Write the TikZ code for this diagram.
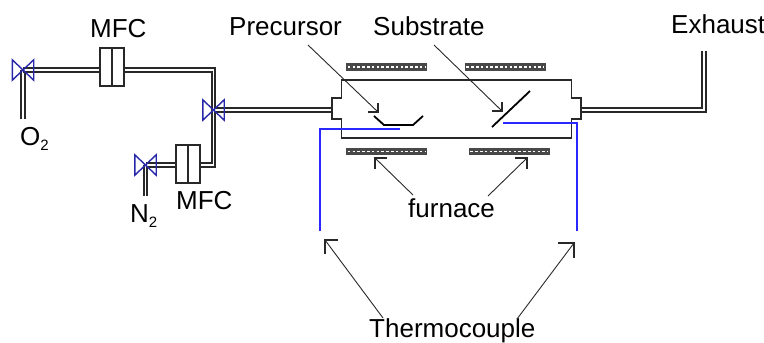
\documentclass[tikz,border=0pt]{standalone}
\usepackage{fontspec}
\setmainfont{Liberation Sans}
\usetikzlibrary{calc}
\definecolor{valveblue}{RGB}{40,40,170}
\definecolor{tcblue}{RGB}{40,40,255}
\definecolor{lineblk}{RGB}{40,40,40}
\tikzset{
  lbl/.style={inner sep=0pt,font=\fontsize{26}{28}\selectfont,text=black},
  pipe/.style={draw=lineblk,line width=2pt,double=white,double distance=1.2pt,line join=miter},
  mfcbox/.style={draw=lineblk,line width=1.4pt,fill=white,minimum width=24pt,minimum height=38pt,inner sep=0pt},
  valvept/.style={inner sep=0pt,minimum width=21pt,minimum height=20pt},
  tube/.style={draw=lineblk,line width=1.4pt},
  tc/.style={draw=tcblue,line width=2pt},
  heater/.style={draw=none,fill=lineblk!85,minimum width=81pt,minimum height=7.5pt,inner sep=0pt},
  pointer/.style={draw=lineblk,line width=0.9pt},
  barb/.style={draw=lineblk,line width=1.3pt},
  holder/.style={draw=black,line width=1.8pt}
}
\newcommand{\valveglyph}[1]{%
  \draw[valveblue,line width=1.4pt,line join=miter]
    (#1.north west)--(#1.south east)--(#1.north east)--(#1.south west)--cycle;}
\newcommand{\heaterhatch}[1]{%
  \draw[white,line width=1.8pt,dash pattern=on 2.6pt off 2.2pt]
    ($(#1.west)+(2pt,0)$)--($(#1.east)+(-2pt,0)$);}
\newcommand{\subtwo}{\raisebox{-5pt}{\fontsize{15}{15}\selectfont 2}}
\begin{document}
\begin{tikzpicture}[x=1pt,y=-1pt]
\useasboundingbox (0,0) rectangle (764,343);
% named points
\node[valvept] (v1) at (23,70) {};
\node[valvept] (v2) at (213.5,110) {};
\node[valvept] (v3) at (145.5,165) {};
\coordinate (o2end) at (23,118.5);
\coordinate (n2end) at (145.5,196);
\coordinate (c1) at (213.5,70);
\coordinate (c2) at (213.5,165);
\coordinate (tl) at (332,110);
\coordinate (tr) at (581,110);
\coordinate (ec) at (704,110);
\coordinate (eend) at (704,51);
\node[mfcbox] (m1) at (112,67) {};
\node[mfcbox] (m2) at (188,164) {};
% pipes
\draw[pipe] (o2end)--(v1.center);
\draw[pipe] (n2end)--(v3.center);
\draw[pipe] (v1.center)--(m1.west|-v1.center);
\draw[pipe] (m1.east|-c1)--(c1)--(c2)--(m2.east|-c2);
\draw[pipe] (v3.center)--(m2.west|-v3.center);
\draw[pipe] (v2.center)--(tl);
\draw[pipe] (tr)--(ec)--(eend);
% MFC boxes
\node[mfcbox] at (m1) {};
\draw[lineblk,line width=1.4pt] (m1.north)--(m1.south);
\node[mfcbox] at (m2) {};
\draw[lineblk,line width=1.4pt] (m2.north)--(m2.south);
% valves
\valveglyph{v1}\valveglyph{v2}\valveglyph{v3}
% tube
\draw[tube,fill=white,line join=miter]
  (341.5,80)--(341.5,98)--(332,98)--(332,119)--(341.5,119)--(341.5,138)
  --(571.5,138)--(571.5,119)--(581,119)--(581,98)--(571.5,98)--(571.5,80)--cycle;
% furnace
\node[heater] (h1) at (386.5,67) {};
\node[heater] (h2) at (505,67) {};
\node[heater] (h3) at (386.5,151.5) {};
\node[heater] (h4) at (509,151.5) {};
\heaterhatch{h1}\heaterhatch{h2}\heaterhatch{h3}\heaterhatch{h4}
% holders
\draw[holder] (374,116)--(384,125)--(413,125)--(423,116);
\draw[holder] (492,127)--(530,91);
% thermocouples
\coordinate (tc1a) at (320,231);
\coordinate (tc1b) at (320,129);
\coordinate (tc1c) at (400,129);
\coordinate (tc2a) at (503,123);
\coordinate (tc2b) at (577,123);
\coordinate (tc2c) at (577,231);
\draw[tc] (tc1a)--(tc1b)--(tc1c);
\draw[tc] (tc2a)--(tc2b)--(tc2c);
% labels
\node[lbl,anchor=base west] (mfc1) at (90,37) {MFC};
\node[lbl,anchor=base west] (mfc2) at (176,209) {MFC};
\node[lbl,anchor=base west] (o2) at (20,145) {O\subtwo};
\node[lbl,anchor=base west] (n2) at (130,222) {N\subtwo};
\node[lbl,anchor=base west] (prec) at (229,35) {Precursor};
\node[lbl,anchor=base west] (sub) at (373,35) {Substrate};
\node[lbl,anchor=base west] (exh) at (671,33) {Exhaust};
\node[lbl,anchor=base west] (furn) at (408,217) {furnace};
\node[lbl,anchor=base west] (thermo) at (369,337.5) {Thermocouple};
% pointers
\coordinate (p1s) at (308,45); \coordinate (p1e) at (378,112);
\coordinate (p2s) at (434,45); \coordinate (p2e) at (502,111);
\coordinate (f1s) at (413,195); \coordinate (f1e) at (375,158);
\coordinate (f2s) at (488,196); \coordinate (f2e) at (527,158);
\coordinate (t1s) at (383,318); \coordinate (t1e) at (325,240);
\coordinate (t2s) at (517,319); \coordinate (t2e) at (574,243);
\draw[pointer] (p1s)--(p1e);
\draw[barb] ($(p1e)+(0,-9)$)--(p1e)--($(p1e)+(-10,0)$);
\draw[pointer] (p2s)--(p2e);
\draw[barb] ($(p2e)+(0,-9)$)--(p2e)--($(p2e)+(-10,0)$);
\draw[pointer] (f1s)--(f1e);
\draw[barb] ($(f1e)+(0,11)$)--(f1e)--($(f1e)+(12,0)$);
\draw[pointer] (f2s)--(f2e);
\draw[barb] ($(f2e)+(0,11)$)--(f2e)--($(f2e)+(-12,0)$);
\draw[pointer] (t1s)--(t1e);
\draw[barb] ($(t1e)+(0,14)$)--(t1e)--($(t1e)+(13,0)$);
\draw[pointer] (t2s)--(t2e);
\draw[barb] ($(t2e)+(0,15)$)--(t2e)--($(t2e)+(-16,0)$);
\end{tikzpicture}
\end{document}
